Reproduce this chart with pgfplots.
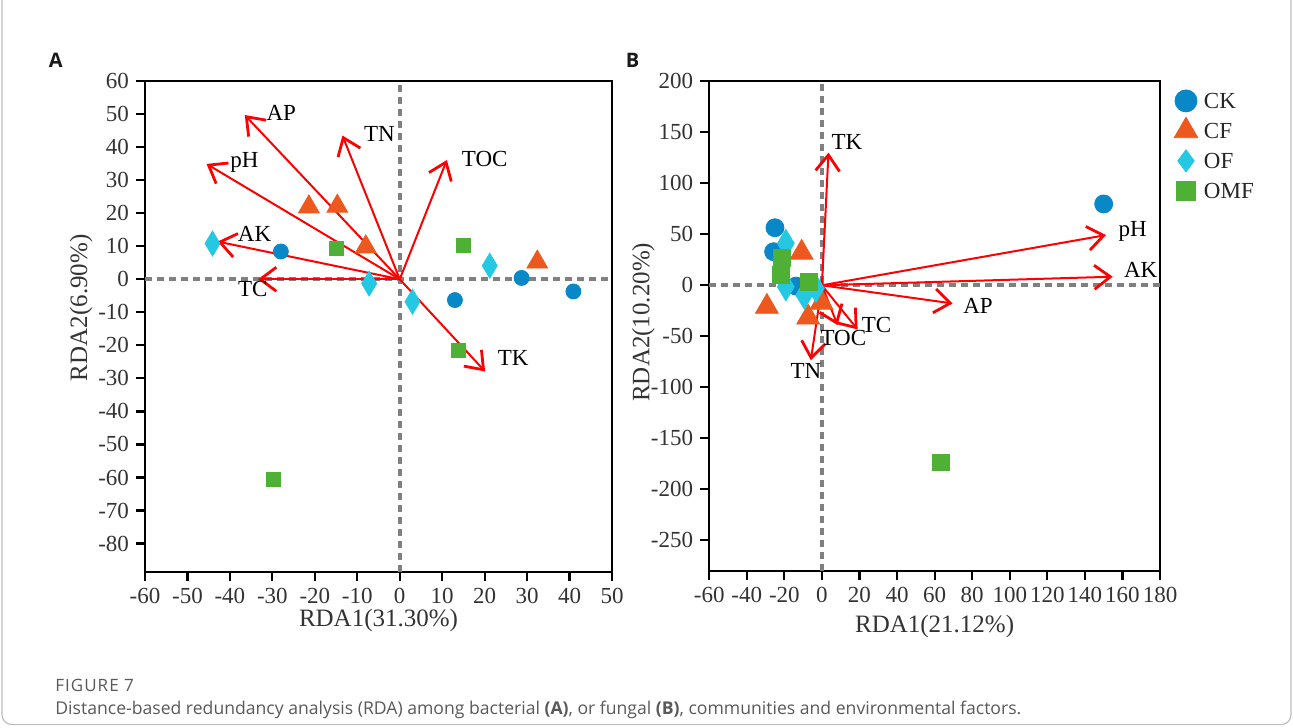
\documentclass[border=0pt]{standalone}
\usepackage{pgfplots}
\pgfplotsset{compat=1.18}
\usepackage{fontspec}
\setmainfont{Liberation Serif}
\newfontfamily\capfont{Open Sans}
\newfontfamily\capfontls[LetterSpace=6]{Open Sans}
\usetikzlibrary{arrows.meta}
\definecolor{ckc}{RGB}{8,136,198}
\definecolor{cfc}{RGB}{236,88,30}
\definecolor{ofc}{RGB}{36,200,226}
\definecolor{omfc}{RGB}{78,176,52}
\definecolor{zl}{RGB}{128,128,128}
\pgfplotsset{
  rdastyle/.style={
    scale only axis,
    axis line style={line width=1.1pt, black},
    tick style={line width=1.1pt, black},
    tick align=outside,
    major tick length=4.5pt,
    xtick pos=lower, ytick pos=left,
    tick label style={font=\fontsize{11.5}{13}\selectfont, text=black!80},
    /pgf/number format/assume math mode=true,
    label style={font=\fontsize{12.5}{14}\selectfont, text=black!80},
  },
  arrowplot/.style={line width=1pt, color=red, -{Straight Barb[length=8pt,width=12pt,line width=1.4pt]}},
  zeroline/.style={zl, line width=2pt, dash pattern=on 3.5pt off 2.5pt},
}
\tikzset{lab/.style={font=\fontsize{11.5}{13}\selectfont, text=black, inner sep=0pt}}
\begin{document}
\begin{tikzpicture}
\useasboundingbox (0,0) rectangle (646.5pt,-363.5pt);
% ---------------- Panel A ----------------
\begin{axis}[rdastyle, at={(72.5pt,-40.5pt)}, anchor=north west,
  width=233.5pt, height=245.5pt,
  xmin=-60, xmax=50, ymin=-88.6, ymax=60,
  xtick={-60,-50,...,50}, ytick={-80,-70,...,60},
  xlabel={RDA1(31.30\%)}, ylabel={RDA2(6.90\%)},
  xlabel style={at={(axis description cs:0.5,-0.098)}, anchor=center},
  ylabel style={at={(axis description cs:-0.137,0.538)}, anchor=center},
]
\addplot[zeroline] coordinates {(-60,0) (50,0)};
\addplot[zeroline] coordinates {(0,-88.6) (0,60)};
% CK
\addplot[only marks, mark=*, mark size=3.75pt, mark options={draw=ckc, fill=ckc}]
  coordinates {(-28,8.4) (28.7,0.4) (40.9,-3.7) (13,-6.3)};
% CF
\addplot[only marks, mark=triangle*, mark size=6pt, mark options={draw=cfc, fill=cfc}]
  coordinates {(-21.4,21.9) (-14.7,22.1) (-8,9.8) (32.4,5.2)};
% OF
\addplot[only marks, mark=diamond*, mark size=6.25pt, mark options={draw=ofc, fill=ofc, xscale=0.8}]
  coordinates {(-44.1,10.8) (-7.2,-1.3) (3,-6.8) (21.2,4.1)};
% OMF
\addplot[only marks, mark=square*, mark size=3.5pt, mark options={draw=omfc, fill=omfc}]
  coordinates {(-14.9,9.3) (15,10.1) (13.7,-21.4) (-29.8,-60.7)};
% arrows
\addplot[arrowplot] coordinates {(0,0) (-36.5,49.7)};
\addplot[arrowplot] coordinates {(0,0) (-13.5,43.5)};
\addplot[arrowplot] coordinates {(0,0) (-45.5,34.9)};
\addplot[arrowplot] coordinates {(0,0) (11.1,36.1)};
\addplot[arrowplot] coordinates {(0,0) (-42.9,11.4)};
\addplot[arrowplot] coordinates {(0,0) (-33.4,0)};
\addplot[arrowplot] coordinates {(0,0) (20.1,-27.9)};
\node[lab] at (axis cs:-27.9,50.4) {AP};
\node[lab] at (axis cs:-4.8,43.9) {TN};
\node[lab, anchor=base] at (axis cs:-36.6,33.9) {pH};
\node[lab] at (axis cs:20.0,36.3) {TOC};
\node[lab] at (axis cs:-34.2,13.6) {AK};
\node[lab] at (axis cs:-34.6,-3.1) {TC};
\node[lab] at (axis cs:26.7,-23.7) {TK};
\end{axis}
% ---------------- Panel B ----------------
\begin{axis}[rdastyle, at={(354.6pt,-40.6pt)}, anchor=north west,
  width=225.4pt, height=244.9pt,
  xmin=-60, xmax=180, ymin=-280, ymax=200,
  xtick={-60,-40,...,180}, ytick={-250,-200,...,200},
  xlabel={RDA1(21.12\%)}, ylabel={RDA2(10.20\%)},
  xlabel style={at={(axis description cs:0.5,-0.114)}, anchor=center},
  ylabel style={at={(axis description cs:-0.146,0.508)}, anchor=center},
  legend image code/.code={\draw[#1] plot coordinates {(0pt,3.8pt)};},
  legend style={at={(axis description cs:1,1)}, anchor=north west,
    xshift=7.1pt, yshift=-2.35pt, draw=none, fill=none,
    inner sep=0pt, outer sep=0pt, row sep=0pt, column sep=3.1pt,
    font=\fontsize{11.5}{13}\selectfont, text=black!85,
    nodes={inner sep=0pt, anchor=base west, text height=11.3pt, text depth=3.7pt}},
  legend cell align=left,
]
\addplot[zeroline, forget plot] coordinates {(-60,0) (180,0)};
\addplot[zeroline, forget plot] coordinates {(0,-280) (0,200)};
% CK
\addplot[forget plot, only marks, mark=*, mark size=4.5pt, mark options={draw=ckc, fill=ckc}]
  coordinates {(-25,56.4) (-25.7,32.9) (-13.8,-0.8) (150,79.7)};
% CF
\addplot[forget plot, only marks, mark=triangle*, mark size=6.6pt, mark options={draw=cfc, fill=cfc}]
  coordinates {(-10.8,32) (-29.3,-21) (-7.3,-31.5) (-0.2,-17)};
% OF
\addplot[forget plot, only marks, mark=diamond*, mark size=7pt, mark options={draw=ofc, fill=ofc, xscale=0.8}]
  coordinates {(-19.2,41.1) (-19.2,-1.5) (-9.4,-9.6) (-3.2,-3.1)};
% OMF
\addplot[forget plot, only marks, mark=square*, mark size=4.2pt, mark options={draw=omfc, fill=omfc}]
  coordinates {(-21.3,27) (-21.8,10) (-7.1,3.4) (63.4,-173.5)};
% arrows
\addplot[forget plot, arrowplot] coordinates {(0,0) (3.5,130)};
\addplot[forget plot, arrowplot] coordinates {(0,0) (151.2,49.2)};
\addplot[forget plot, arrowplot] coordinates {(0,0) (154.8,8.4)};
\addplot[forget plot, arrowplot] coordinates {(0,0) (69.6,-17.8)};
\addplot[forget plot, arrowplot] coordinates {(0,0) (19.0,-43.3)};
\addplot[forget plot, arrowplot] coordinates {(0,0) (8.3,-39)};
\addplot[forget plot, arrowplot] coordinates {(0,0) (-5.9,-73.4)};
\node[lab] at (axis cs:13.3,140.5) {TK};
\node[lab, anchor=base] at (axis cs:165.4,47.6) {pH};
\node[lab] at (axis cs:169.7,14.9) {AK};
\node[lab] at (axis cs:83.1,-20.1) {AP};
\node[lab] at (axis cs:29.1,-38.8) {TC};
\node[lab] at (axis cs:11.4,-51.8) {TOC};
\node[lab] at (axis cs:-8.5,-83.5) {TN};
% legend
\addlegendimage{mark=*, mark size=5.5pt, mark options={draw=ckc, fill=ckc}}
\addlegendentry{CK}
\addlegendimage{mark=triangle*, mark size=6.8pt, mark options={draw=cfc, fill=cfc}}
\addlegendentry{CF}
\addlegendimage{mark=diamond*, mark size=5.5pt, mark options={draw=ofc, fill=ofc}}
\addlegendentry{OF}
\addlegendimage{mark=square*, mark size=4.75pt, mark options={draw=omfc, fill=omfc}}
\addlegendentry{OMF}
\end{axis}
% panel letters
\node[font=\capfont\bfseries\fontsize{10}{12}\selectfont, text=black!90] at (27.9pt,-30.2pt) {A};
\node[font=\capfont\bfseries\fontsize{10}{12}\selectfont, text=black!90] at (316.3pt,-30pt) {B};
% caption
\node[anchor=base west, inner sep=0pt, font=\capfontls\fontsize{8.5}{10}\selectfont, text=black!65] at (27.5pt,-345.5pt) {FIGURE 7};
\node[anchor=base west, inner sep=0pt, font=\capfont\fontsize{8.8}{10}\selectfont, text=black!65] at (27.5pt,-357pt)
  {Distance-based redundancy analysis (RDA) among bacterial \textbf{(A)}, or fungal \textbf{(B)}, communities and environmental factors.};
% frame
\draw[black!25, line width=0.6pt, rounded corners=5pt] (1pt,5pt) -- (1pt,-362.3pt) -- (645.5pt,-362.3pt) -- (645.5pt,5pt);
\end{tikzpicture}
\end{document}
